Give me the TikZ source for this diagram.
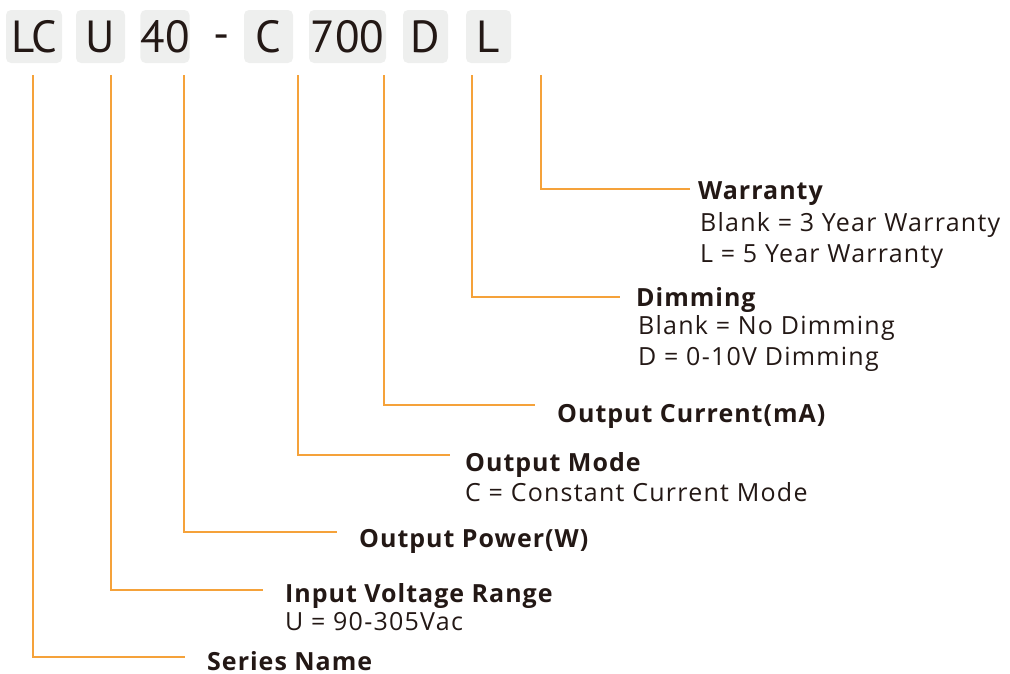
\documentclass[tikz,border=0pt]{standalone}
\usepackage{fontspec}
\setmainfont[LetterSpace=5]{Open Sans}
\newfontfamily\codefont{PT Sans}
\newfontfamily\titlefont[LetterSpace=4]{Open Sans}
\usetikzlibrary{positioning}
\definecolor{leadorange}{HTML}{F5A23A}
\definecolor{ink}{HTML}{231815}
\definecolor{boxgray}{HTML}{EEEFEE}

\begin{document}
\begin{tikzpicture}[x=1pt,y=-1pt]
\tikzstyle{code}=[rectangle, rounded corners=5pt, fill=boxgray, minimum height=53pt, inner sep=0pt, text=ink, text height=31pt, text depth=0pt, font=\codefont\fontsize{45}{45}\selectfont]
\tikzstyle{title}=[anchor=base west, inner sep=0pt, text=ink, font=\titlefont\fontsize{25}{31}\selectfont\bfseries]
\tikzstyle{desc}=[anchor=base west, inner sep=0pt, text=ink, align=left, font=\fontsize{25}{31}\selectfont]
\tikzstyle{lead}=[draw=leadorange, line width=1.3pt]
\useasboundingbox (0,0) rectangle (1010,673);
  % part number boxes
  \node[code, minimum width=56pt] (lc) at (34,36.5) {LC};
  \node[code, minimum width=49pt] (u) at (100.5,36.5) {U};
  \node[code, minimum width=48pt] (pw) at (165,36.5) {40};
  \node[code, fill=none] (dash) at (222,34) {-};
  \node[code, minimum width=49pt] (c) at (268.5,36.5) {C};
  \node[code, minimum width=77pt] (ma) at (347.5,36.5) {700};
  \node[code, minimum width=45pt] (d) at (425.5,36.5) {D};
  \node[code, minimum width=45pt] (l) at (488.5,36.5) {L};
  % labels (two-line texts sit on their last baseline)
  \node[title] (warr) at (698,199) {Warranty};
  \node[desc] (warrtxt) at (700,262) {Blank = 3 Year Warranty\\L = 5 Year Warranty};
  \node[title] (dim) at (636,306) {Dimming};
  \node[desc] (dimtxt) at (638,365) {Blank = No Dimming\\D = 0-10V Dimming};
  \node[title] (cur) at (557,422) {Output Current(mA)};
  \node[title] (mode) at (465,471) {Output Mode};
  \node[desc] (modetxt) at (465,501) {C = Constant Current Mode};
  \node[title] (pow) at (359,547) {Output Power(W)};
  \node[title] (inp) at (285,602) {Input Voltage Range};
  \node[desc] (inptxt) at (285,630) {U = 90-305Vac};
  \node[title] (ser) at (207,670) {Series Name};
  % lead lines
  \foreach \n/\tx/\ly/\ex in {lc/33/657/185, u/111/590/263, pw/184/532/337, c/298/455/450, ma/384/405/535, d/472/297/620, l/541/189/690}
  {
    \coordinate (\n-top) at (\tx,75);
    \coordinate (\n-end) at (\ex,\ly);
    \draw[lead] (\n-top) |- (\n-end);
  }
\end{tikzpicture}
\end{document}
